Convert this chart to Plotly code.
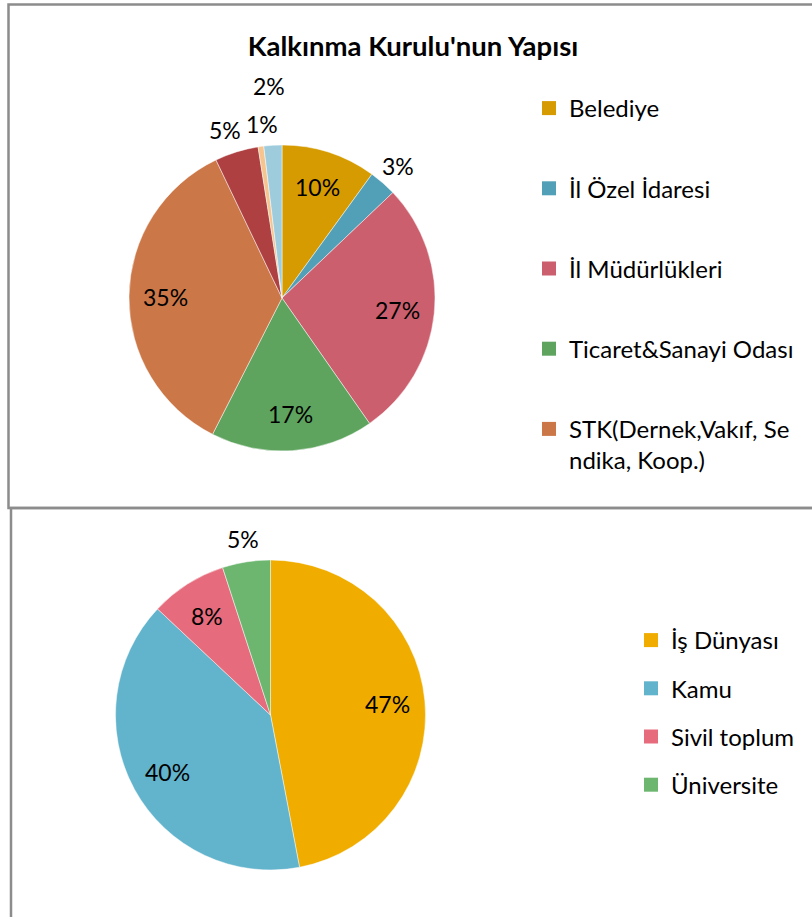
import math
import plotly.graph_objects as go

# ---------------- data ----------------
top_title = "Kalkınma Kurulu'nun Yapısı"
top_labels = ["Belediye", "İl Özel İdaresi", "İl Müdürlükleri", "Ticaret&Sanayi Odası",
              "STK(Dernek,Vakıf, Sendika, Koop.)", "Üniversite", "Meslek Odaları", "Diğer"]
top_values = [10.0, 2.9, 27.4, 17.2, 35.4, 4.6, 0.6, 1.9]
top_legend_text = ["Belediye", "İl Özel İdaresi", "İl Müdürlükleri", "Ticaret&Sanayi Odası",
                   "STK(Dernek,Vakıf, Se<br>ndika, Koop.)"]
top_colors = ["#D59B00", "#52A0B7", "#CB5F6E", "#5EA45F", "#CC7748", "#AE4041", "#F6C48E", "#9ECCDC"]

bot_labels = ["İş Dünyası", "Kamu", "Sivil toplum", "Üniversite"]
bot_values = [47, 40, 8, 5]
bot_colors = ["#F0AD00", "#62B3CC", "#E66C7D", "#6CB66F"]

# ---------------- layout helpers ----------------
W, H = 812, 917
FONT = "Lato"
LABEL_FS = 23
LEGEND_FS = 24
TITLE_FS = 27.5

def fx(x):
    return x / W
def fy(y):
    return 1 - y / H

# pie boxes in pixels (left, top, size)
TOP_PIE = (129, 145, 306)
BOT_PIE = (115.5, 560, 310)

fig = go.Figure()

def add_pie(labels, values, colors, box):
    l, t, s = box
    fig.add_trace(go.Pie(
        labels=labels, values=values, sort=False, direction="clockwise", rotation=0,
        marker=dict(colors=colors, line=dict(color="rgba(255,255,255,0.6)", width=0.8)),
        textinfo="none", showlegend=False, hoverinfo="label+percent",
        domain=dict(x=[fx(l), fx(l + s)], y=[fy(t + s), fy(t)]),
    ))

def pie_label_annotations(values, box, fs):
    l, t, s = box
    cx, cy, r = l + s / 2, t + s / 2, s / 2
    total = float(sum(values))
    cum = 0.0
    items = []
    last_out = None
    for v in values:
        pct = 100.0 * v / total
        txt = f"{int(pct + 0.5)}%"
        theta = 2 * math.pi * (cum + v / 2) / total
        cum += v
        inside = pct >= 8
        k = 0.76 if inside else 1.15
        x = cx + k * r * math.sin(theta)
        y = cy - k * r * math.cos(theta)
        w, h = 0.72 * fs * len(txt), fs
        item = {"x": x, "y": y, "w": w, "txt": txt, "moved": False}
        if not inside and last_out is not None:
            p = last_out
            need = (w + p["w"]) / 2 + 4
            if abs(x - p["x"]) < need and abs(y - p["y"]) < h:
                if not p["moved"]:
                    d = 1 if x >= p["x"] else -1
                    spread = (need - abs(x - p["x"])) / 2
                    p["x"] -= d * spread
                    item["x"] += d * spread
                    p["moved"] = True
                    item["moved"] = True
                else:
                    while abs(item["x"] - p["x"]) < need and abs(item["y"] - p["y"]) < h + 12:
                        k += 0.02
                        item["x"] = cx + k * r * math.sin(theta)
                        item["y"] = cy - k * r * math.cos(theta)
                    item["moved"] = True
        items.append(item)
        if not inside:
            last_out = item
    anns = []
    for it in items:
        anns.append(dict(x=fx(it["x"]), y=fy(it["y"]), xref="paper", yref="paper",
                         text=it["txt"], showarrow=False, xanchor="center", yanchor="middle",
                         font=dict(family=FONT, size=fs, color="#000000")))
    return anns

add_pie(top_labels, top_values, top_colors, TOP_PIE)
add_pie(bot_labels, bot_values, bot_colors, BOT_PIE)

# legend entries (the top chart's legend shows only its first five categories)
for name, col, grp in zip(top_legend_text, top_colors, top_labels):
    fig.add_trace(go.Scatter(x=[None], y=[None], mode="markers", name=name,
                             marker=dict(symbol="square", size=14, color=col),
                             legend="legend", legendgroup=grp, hoverinfo="skip"))
for name, col in zip(bot_labels, bot_colors):
    fig.add_trace(go.Scatter(x=[None], y=[None], mode="markers", name=name,
                             marker=dict(symbol="square", size=14, color=col),
                             legend="legend2", legendgroup="b_" + name, hoverinfo="skip"))

annotations = (pie_label_annotations(top_values, TOP_PIE, LABEL_FS)
               + pie_label_annotations(bot_values, BOT_PIE, LABEL_FS))

border = dict(color="#8C8C8C", width=2.5)
shapes = [
    dict(type="rect", xref="paper", yref="paper", x0=fx(8.5), y0=fy(508), x1=fx(840), y1=fy(4.5),
         line=border, fillcolor="rgba(0,0,0,0)", layer="below"),
    dict(type="rect", xref="paper", yref="paper", x0=fx(11), y0=fy(950), x1=fx(840), y1=fy(508),
         line=border, fillcolor="rgba(0,0,0,0)", layer="below"),
]

fig.update_layout(
    width=W, height=H, margin=dict(l=0, r=0, t=0, b=0),
    paper_bgcolor="white", plot_bgcolor="white",
    title=dict(text=f"<b>{top_title}</b>", x=fx(413), y=fy(46), xanchor="center", yanchor="middle",
               font=dict(family=FONT, size=TITLE_FS, color="#000000")),
    xaxis=dict(visible=False, range=[0, 1]), yaxis=dict(visible=False, range=[0, 1]),
    legend=dict(x=fx(529), y=fy(86), xanchor="left", yanchor="top", traceorder="grouped",
                tracegroupgap=46, valign="top", itemsizing="trace", bgcolor="rgba(0,0,0,0)",
                font=dict(family=FONT, size=LEGEND_FS, color="#000000")),
    legend2=dict(x=fx(631), y=fy(618), xanchor="left", yanchor="top", traceorder="grouped",
                 tracegroupgap=14, valign="top", itemsizing="trace", bgcolor="rgba(0,0,0,0)",
                 font=dict(family=FONT, size=LEGEND_FS, color="#000000")),
    annotations=annotations, shapes=shapes,
)

fig.write_html("out.html", config={"displayModeBar": False},
               post_script="document.body.style.margin='0px';")
